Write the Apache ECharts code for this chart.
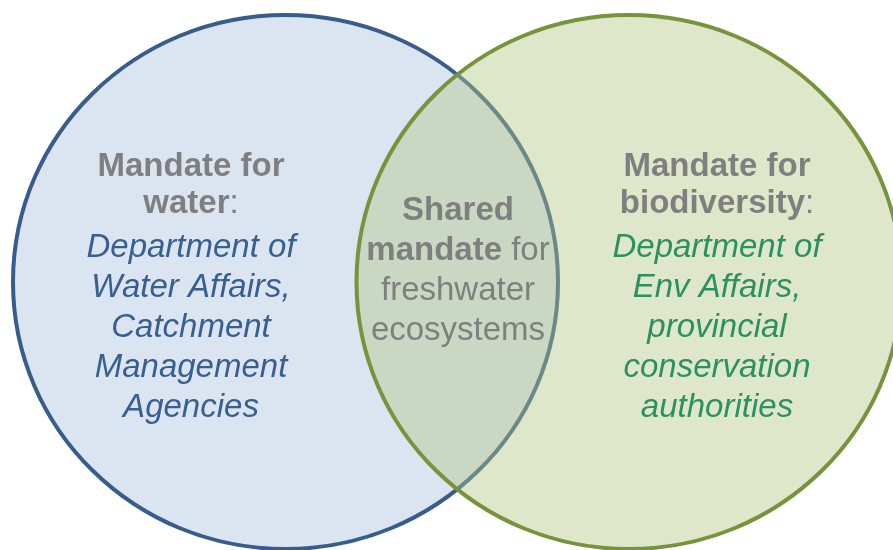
<!DOCTYPE html>
<html>
<head>
<meta charset="utf-8">
<style>
  html, body { margin: 0; padding: 0; background: #ffffff; }
  #chart { width: 893px; height: 550px; }
</style>
<script src="https://cdn.jsdelivr.net/npm/echarts@6/dist/echarts.min.js"></script>
</head>
<body>
<div id="chart"></div>
<script>
// 两个集合（圆心与半径，单位同画布坐标轴）
const setNames = ['Mandate for water', 'Mandate for biodiversity']
const centerX = [285.5, 629]
const centerY = [282, 282]
const radiusX = [272.5, 272.5]
const radiusY = [267, 267]

// 文字内容
const waterHead = ['Mandate for', 'water']
const waterBody = ['Department of', 'Water Affairs,', 'Catchment', 'Management', 'Agencies']
const sharedHead = ['Shared', 'mandate']
const sharedBody = [' for', 'freshwater', 'ecosystems']
const bioHead = ['Mandate for', 'biodiversity']
const bioBody = ['Department of', 'Env Affairs,', 'provincial', 'conservation', 'authorities']

const FONT = '"Liberation Sans", Arial, sans-serif'
const SIZE = 33

const chart = echarts.init(document.getElementById('chart'))

// 文本块：锚点（数据坐标）+ 富文本
const headText = (lines) =>
  lines.map((l, i) => i === lines.length - 1 ? `{b|${l}}{n|:}` : `{b|${l}}`).join('\n')
const bodyText = (lines, key) => lines.map((l) => `{${key}|${l}}`).join('\n')

const textBlocks = [
  { x: 191, y: 185.5, text: headText(waterHead) },
  { x: 191, y: 327.5, text: bodyText(waterBody, 'bl') },
  {
    x: 458, y: 271,
    text: `{m|${sharedHead[0]}}\n{m|${sharedHead[1]}}{r|${sharedBody[0]}}\n{r|${sharedBody[1]}}\n{r|${sharedBody[2]}}`
  },
  { x: 717, y: 185.5, text: headText(bioHead) },
  { x: 717, y: 327.5, text: bodyText(bioBody, 'gr') },
]

const rich = {
  b: { fontFamily: FONT, fontSize: SIZE, fontWeight: 'bold', fill: '#7f7f7f', color: '#7f7f7f', lineHeight: 37 },
  n: { fontFamily: FONT, fontSize: SIZE, fill: '#7f7f7f', color: '#7f7f7f', lineHeight: 37 },
  m: { fontFamily: FONT, fontSize: SIZE, fontWeight: 'bold', fill: '#7f7f7f', color: '#7f7f7f', lineHeight: 40 },
  r: { fontFamily: FONT, fontSize: SIZE, fill: '#7f7f7f', color: '#7f7f7f', lineHeight: 40 },
  bl: { fontFamily: FONT, fontSize: SIZE, fontStyle: 'italic', fill: '#375f91', color: '#375f91', lineHeight: 40 },
  gr: { fontFamily: FONT, fontSize: SIZE, fontStyle: 'italic', fill: '#2c9160', color: '#2c9160', lineHeight: 40 },
}

const circleStyles = [
  { fill: '#dbe5f1', stroke: '#385d8a' },
  { fill: 'rgba(179,198,131,0.42)', stroke: '#77933c' },
]

const option = {
  animation: false,
  grid: { left: 0, right: 0, top: 0, bottom: 0 },
  xAxis: { type: 'value', min: 0, max: 893, show: false },
  yAxis: { type: 'value', min: 0, max: 550, inverse: true, show: false },
  series: [
    {
      type: 'custom',
      name: 'sets',
      coordinateSystem: 'cartesian2d',
      data: setNames.map((n, i) => ({ name: n, value: [centerX[i], centerY[i], radiusX[i], radiusY[i]] })),
      renderItem: (params, api) => {
        const c = api.coord([api.value(0), api.value(1)])
        const s = api.size([api.value(2), api.value(3)])
        const st = circleStyles[params.dataIndex]
        return {
          type: 'ellipse',
          shape: { cx: c[0], cy: c[1], rx: s[0], ry: s[1] },
          style: { fill: st.fill, stroke: st.stroke, lineWidth: 4 },
        }
      },
      silent: true,
    },
    {
      type: 'custom',
      name: 'labels',
      coordinateSystem: 'cartesian2d',
      data: textBlocks.map((b) => [b.x, b.y]),
      renderItem: (params, api) => {
        const p = api.coord([api.value(0), api.value(1)])
        return {
          type: 'text',
          x: p[0],
          y: p[1],
          style: {
            text: textBlocks[params.dataIndex].text,
            rich,
            align: 'center',
            verticalAlign: 'middle',
            font: `${SIZE}px ${FONT}`,
          },
        }
      },
      silent: true,
      z: 5,
    },
  ],
}

chart.setOption(option)
</script>
</body>
</html>
